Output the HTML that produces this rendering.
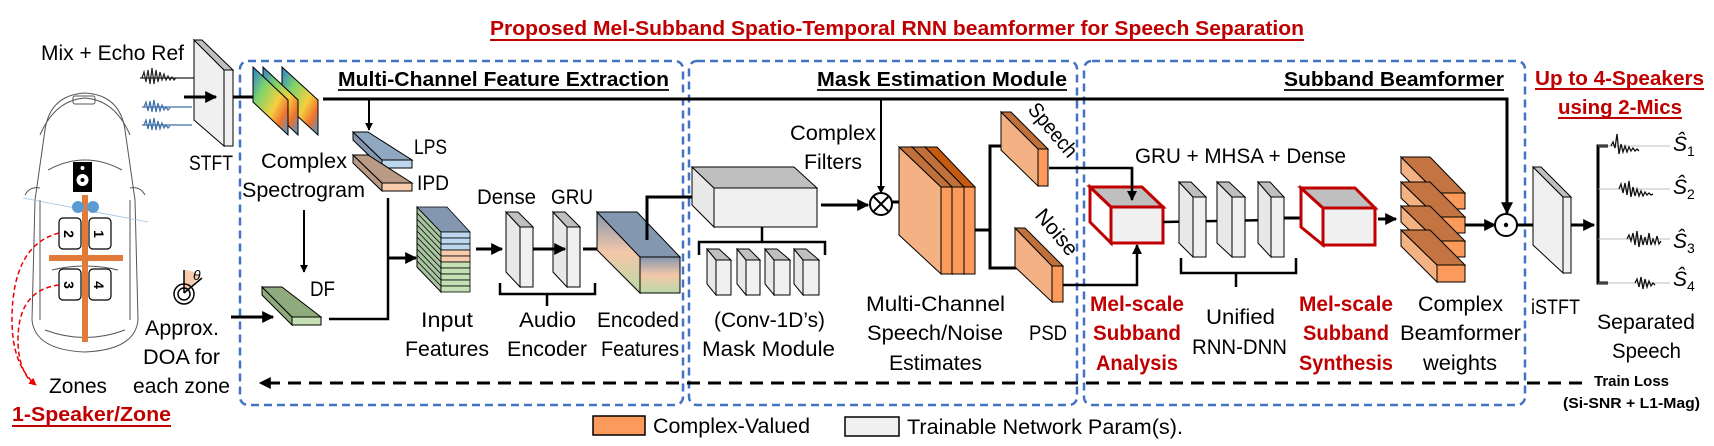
<!DOCTYPE html>
<html><head><meta charset="utf-8"><style>
html,body{margin:0;padding:0;background:#fff}
svg{display:block}
text{font-family:"Liberation Sans",sans-serif;fill:#000}
.l{font-size:21px}
.b{font-weight:bold}
.r{fill:#c00000;font-weight:bold}
</style></head><body>
<svg width="1714" height="446" viewBox="0 0 1714 446" xmlns="http://www.w3.org/2000/svg">
<defs>
<marker id="ah" viewBox="0 0 10 10" refX="9" refY="5" markerWidth="4" markerHeight="4" orient="auto"><path d="M0,0L10,5L0,10z" fill="#000"/></marker>
<marker id="rah" viewBox="0 0 10 10" refX="9" refY="5" markerWidth="5" markerHeight="5" orient="auto"><path d="M0,0L10,5L0,10z" fill="#e00"/></marker>
<linearGradient id="enc" x1="0" y1="0" x2="0" y2="1"><stop offset="0" stop-color="#8497b0"/><stop offset="0.5" stop-color="#f4c7a8"/><stop offset="1" stop-color="#b8d9a8"/></linearGradient>
<linearGradient id="spec" x1="0" y1="0" x2="1" y2="1"><stop offset="0" stop-color="#2a7fd4"/><stop offset="0.3" stop-color="#7fd36b"/><stop offset="0.6" stop-color="#f4d03f"/><stop offset="0.8" stop-color="#f07030"/><stop offset="1" stop-color="#3aa0e0"/></linearGradient>
</defs>

<text x="490" y="35" class="r" font-size="20" textLength="814" lengthAdjust="spacingAndGlyphs">Proposed Mel-Subband Spatio-Temporal RNN beamformer for Speech Separation</text>
<line x1="490" y1="40" x2="1304" y2="40" stroke="#c00000" stroke-width="2"/>

<g fill="none" stroke="#4472c4" stroke-width="2.5" stroke-dasharray="8 5">
<rect x="240" y="61" width="443" height="344" rx="8"/>
<rect x="689" y="61" width="388" height="344" rx="8"/>
<rect x="1084" y="61" width="441" height="344" rx="8"/>
</g>
<text x="338" y="86" class="b" font-size="20" textLength="331" lengthAdjust="spacingAndGlyphs">Multi-Channel Feature Extraction</text>
<line x1="338" y1="90" x2="669" y2="90" stroke="#000" stroke-width="1.8"/>
<text x="817" y="86" class="b" font-size="20" textLength="250" lengthAdjust="spacingAndGlyphs">Mask Estimation Module</text>
<line x1="817" y1="90" x2="1067" y2="90" stroke="#000" stroke-width="1.8"/>
<text x="1284" y="86" class="b" font-size="20" textLength="220" lengthAdjust="spacingAndGlyphs">Subband Beamformer</text>
<line x1="1284" y1="90" x2="1504" y2="90" stroke="#000" stroke-width="1.8"/>

<text x="41" y="60" class="l" textLength="143" lengthAdjust="spacingAndGlyphs">Mix + Echo Ref</text>
<g stroke-width="1.2">
<path d="M140,78 L197,78" stroke="#222"/>
<path d="M142,78 l2,-6 2,10 2,-12 2,14 2,-16 2,16 2,-14 2,12 2,-10 2,8 2,-6 2,6 2,-4 2,4 2,-3 2,3 2,-2" stroke="#222" fill="none"/>
<path d="M142,107 L192,107 M142,125 L192,125" stroke="#3d6fa8"/>
<path d="M144,107 l2,-5 2,9 2,-10 2,11 2,-12 2,12 2,-9 2,8 2,-6 2,5 2,-3 2,3 2,-2" stroke="#3d6fa8" fill="none"/>
<path d="M144,125 l2,-5 2,9 2,-10 2,11 2,-12 2,12 2,-9 2,8 2,-6 2,5 2,-3 2,3 2,-2" stroke="#3d6fa8" fill="none"/>
</g>

<polygon points="194,40 224,70 224,146 194,120" fill="#f0f0f0" stroke="#000" stroke-width="1"/>
<polygon points="194,40 202,40 233,70 224,70" fill="#bfbfbf" stroke="#000" stroke-width="1"/>
<rect x="224" y="70" width="9" height="76" fill="#f0f0f0" stroke="#000" stroke-width="1"/>
<text x="189" y="170" class="l" textLength="44" lengthAdjust="spacingAndGlyphs">STFT</text>
<line x1="184" y1="97" x2="216" y2="97" stroke="#000" stroke-width="3" marker-end="url(#ah)"/>
<line x1="233" y1="97" x2="271" y2="97" stroke="#000" stroke-width="3" marker-end="url(#ah)"/>

<polygon points="282,67 318,100 318,135 282,102" fill="url(#spec)" stroke="#000"/>
<polygon points="263,67 298,100 298,135 263,102" fill="url(#spec)" stroke="#000"/>
<polygon points="253,67 288,100 288,135 253,102" fill="url(#spec)" stroke="#000"/>

<polyline points="323,99 1507,99 1507,213" fill="none" stroke="#000" stroke-width="3" marker-end="url(#ah)"/>
<line x1="369" y1="99" x2="369" y2="130" stroke="#000" stroke-width="2" marker-end="url(#ah)"/>

<polygon points="353,132 382,160 382,168 353,140" fill="#8497b0" stroke="#000"/>
<polygon points="353,132 368,132 412,160 382,160" fill="#8fa8c0" stroke="#000"/>
<rect x="382" y="160" width="30" height="8" fill="#bdd7ee" stroke="#000"/>
<polygon points="353,155 382,183 382,191 353,163" fill="#b99a85" stroke="#000"/>
<polygon points="353,155 368,155 412,183 382,183" fill="#b99a85" stroke="#000"/>
<rect x="382" y="183" width="30" height="8" fill="#f8cbad" stroke="#000"/>
<text x="414" y="154" class="l" textLength="33" lengthAdjust="spacingAndGlyphs">LPS</text>
<text x="417" y="190" class="l" textLength="32" lengthAdjust="spacingAndGlyphs">IPD</text>
<text x="261" y="168" class="l" textLength="86" lengthAdjust="spacingAndGlyphs">Complex</text>
<text x="242" y="197" class="l" textLength="123" lengthAdjust="spacingAndGlyphs">Spectrogram</text>
<line x1="304" y1="210" x2="304" y2="272" stroke="#000" stroke-width="2" marker-end="url(#ah)"/>

<polygon points="262,287 292,317 292,325 262,295" fill="#8faa7d" stroke="#000"/>
<polygon points="262,287 282,287 321,317 292,317" fill="#8faa7d" stroke="#000"/>
<rect x="292" y="317" width="29" height="8" fill="#c5e0b4" stroke="#000"/>
<text x="310" y="296" class="l" textLength="25" lengthAdjust="spacingAndGlyphs">DF</text>
<polyline points="329,319 388,319 388,198" fill="none" stroke="#000" stroke-width="2.5"/>
<line x1="388" y1="258" x2="416" y2="258" stroke="#000" stroke-width="3" marker-end="url(#ah)"/>
<line x1="231" y1="317" x2="273" y2="317" stroke="#000" stroke-width="3" marker-end="url(#ah)"/>

<path d="M184,293 L184,270 A23,23 0 0 1 200,277 Z" fill="#f8cbad"/>
<line x1="184" y1="270" x2="184" y2="293" stroke="#000" stroke-width="1.5"/>
<line x1="184" y1="293" x2="202" y2="278" stroke="#000" stroke-width="1.5"/>
<circle cx="184" cy="294" r="10" fill="none" stroke="#000" stroke-width="1.5"/>
<circle cx="184" cy="294" r="6" fill="none" stroke="#000" stroke-width="1.5"/>
<text x="193" y="280" font-size="14" font-style="italic" font-family="Liberation Serif,serif">θ</text>
<text x="145" y="335" class="l" textLength="74" lengthAdjust="spacingAndGlyphs">Approx.</text>
<text x="143" y="364" class="l" textLength="77" lengthAdjust="spacingAndGlyphs">DOA for</text>
<text x="133" y="393" class="l" textLength="97" lengthAdjust="spacingAndGlyphs">each zone</text>
<text x="49" y="393" class="l" textLength="58" lengthAdjust="spacingAndGlyphs">Zones</text>
<text x="12" y="421" class="r" font-size="20" textLength="159" lengthAdjust="spacingAndGlyphs">1-Speaker/Zone</text>
<line x1="12" y1="426" x2="171" y2="426" stroke="#c00000" stroke-width="2"/>

<g fill="none" stroke="#555" stroke-width="1">
<path d="M45,130 Q50,95 85,93 Q120,95 125,130 L135,200 L138,320 Q135,350 85,352 Q35,350 32,320 L35,200 Z" fill="#fff"/>
<path d="M40,135 Q55,100 85,98 Q115,100 130,135 M48,170 Q85,150 122,170 M45,330 Q85,345 125,330 M40,200 L40,320 M130,200 L130,320"/>
<path d="M52,270 Q85,262 118,270"/>
<rect x="73" y="96" width="22" height="8" rx="2"/>
<path d="M25,195 Q30,186 40,188 M145,195 Q140,186 130,188"/>
</g>
<line x1="23" y1="198" x2="148" y2="222" stroke="#9dc3e6" stroke-width="0.8"/>
<rect x="73" y="162" width="19" height="30" fill="#000"/>
<circle cx="82.5" cy="180" r="6" fill="#fff"/><circle cx="82.5" cy="180" r="2" fill="#000"/>
<circle cx="82.5" cy="168" r="2" fill="#fff"/>
<rect x="82" y="195" width="6" height="147" fill="#e07b39"/>
<rect x="49" y="255" width="74" height="6" fill="#e07b39"/>
<circle cx="78" cy="207" r="6" fill="#5b9bd5"/><circle cx="93" cy="207" r="6" fill="#5b9bd5"/>
<g fill="#fff" stroke="#000" stroke-width="1.2">
<rect x="59" y="218" width="22" height="31" rx="4"/><rect x="89" y="218" width="22" height="31" rx="4"/>
<rect x="59" y="269" width="22" height="31" rx="4"/><rect x="89" y="269" width="22" height="31" rx="4"/>
</g>
<g font-size="14" font-weight="bold">
<text transform="translate(64,234) rotate(90)" text-anchor="middle">2</text>
<text transform="translate(94,234) rotate(90)" text-anchor="middle">1</text>
<text transform="translate(64,285) rotate(90)" text-anchor="middle">3</text>
<text transform="translate(94,285) rotate(90)" text-anchor="middle">4</text>
</g>
<path d="M59,233 Q12,245 12,320 Q12,365 36,385" fill="none" stroke="#e00" stroke-width="1.5" stroke-dasharray="5 3" marker-end="url(#rah)"/>
<path d="M59,285 Q18,290 18,340 Q18,370 34,385" fill="none" stroke="#e00" stroke-width="1.5" stroke-dasharray="5 3"/>

<polygon points="417,207 441,232 441,292 417,267" fill="#a9c4a0" stroke="#000"/>
<g stroke="#000" stroke-width="0.8">
<polygon points="417,207 447,207 470,232 441,232" fill="#8497b0"/>
<rect x="441" y="232" width="29" height="6" fill="#bdd7ee"/><rect x="441" y="238" width="29" height="6" fill="#bdd7ee"/><rect x="441" y="244" width="29" height="6" fill="#bdd7ee"/>
<rect x="441" y="250" width="29" height="6" fill="#f8cbad"/><rect x="441" y="256" width="29" height="6" fill="#f8cbad"/>
<rect x="441" y="262" width="29" height="6" fill="#c5e0b4"/><rect x="441" y="268" width="29" height="6" fill="#c5e0b4"/><rect x="441" y="274" width="29" height="6" fill="#c5e0b4"/><rect x="441" y="280" width="29" height="6" fill="#c5e0b4"/><rect x="441" y="286" width="29" height="6" fill="#c5e0b4"/>
<path d="M417,213 441,238 M417,219 441,244 M417,225 441,250 M417,231 441,256 M417,237 441,262 M417,243 441,268 M417,249 441,274 M417,255 441,280 M417,261 441,286" fill="none"/>
</g>
<text x="421" y="327" class="l" textLength="52" lengthAdjust="spacingAndGlyphs">Input</text>
<text x="405" y="356" class="l" textLength="84" lengthAdjust="spacingAndGlyphs">Features</text>
<line x1="476" y1="249" x2="502" y2="249" stroke="#000" stroke-width="3" marker-end="url(#ah)"/>

<g stroke="#000" stroke-width="1">
<polygon points="506,212 520,227 520,287 506,272" fill="#e8e8e8"/>
<polygon points="506,212 518,212 533,227 520,227" fill="#bfbfbf"/>
<rect x="520" y="227" width="13" height="60" fill="#f0f0f0"/>
<polygon points="553,212 567,227 567,287 553,272" fill="#e8e8e8"/>
<polygon points="553,212 565,212 580,227 567,227" fill="#bfbfbf"/>
<rect x="567" y="227" width="13" height="60" fill="#f0f0f0"/>
</g>
<line x1="533" y1="249" x2="565" y2="249" stroke="#000" stroke-width="3" marker-end="url(#ah)"/>
<text x="477" y="204" class="l" textLength="59" lengthAdjust="spacingAndGlyphs">Dense</text>
<text x="551" y="204" class="l" textLength="42" lengthAdjust="spacingAndGlyphs">GRU</text>
<path d="M500,283 L500,294 L595,294 L595,283 M547,294 L547,306" fill="none" stroke="#000" stroke-width="2.5"/>
<text x="519" y="327" class="l" textLength="57" lengthAdjust="spacingAndGlyphs">Audio</text>
<text x="507" y="356" class="l" textLength="80" lengthAdjust="spacingAndGlyphs">Encoder</text>
<line x1="583" y1="249" x2="618" y2="249" stroke="#000" stroke-width="3" marker-end="url(#ah)"/>

<polygon points="597,212 640,257 640,293 597,250" fill="url(#enc)" stroke="#000"/>
<polygon points="597,212 637,212 680,257 640,257" fill="#8497b0" stroke="#000"/>
<rect x="640" y="257" width="40" height="36" fill="url(#enc)" stroke="#000"/>
<polyline points="647,240 647,197 705,197" fill="none" stroke="#000" stroke-width="3" marker-end="url(#ah)"/>
<text x="597" y="327" class="l" textLength="82" lengthAdjust="spacingAndGlyphs">Encoded</text>
<text x="601" y="356" class="l" textLength="78" lengthAdjust="spacingAndGlyphs">Features</text>

<g stroke="#000" stroke-width="1">
<polygon points="692,167 714,188 714,227 692,205" fill="#e8e8e8"/>
<polygon points="692,167 794,167 817,188 714,188" fill="#bfbfbf"/>
<rect x="714" y="188" width="103" height="39" fill="#f0f0f0"/>
</g>
<line x1="821" y1="205" x2="868" y2="205" stroke="#000" stroke-width="3" marker-end="url(#ah)"/>
<path d="M699,255 L699,242 L825,242 L825,255 M762,242 L762,227" fill="none" stroke="#000" stroke-width="2.5"/>
<g stroke="#000" stroke-width="1">
<polygon points="707,249 716,260 716,295 707,284" fill="#e8e8e8"/><polygon points="707,249 719,249 731,260 716,260" fill="#bfbfbf"/><rect x="716" y="260" width="15" height="35" fill="#f0f0f0"/>
<polygon points="737,249 746,260 746,295 737,284" fill="#e8e8e8"/><polygon points="737,249 749,249 760,260 746,260" fill="#bfbfbf"/><rect x="746" y="260" width="14" height="35" fill="#f0f0f0"/>
<polygon points="765,249 774,260 774,295 765,284" fill="#e8e8e8"/><polygon points="765,249 777,249 790,260 774,260" fill="#bfbfbf"/><rect x="774" y="260" width="16" height="35" fill="#f0f0f0"/>
<polygon points="794,249 803,260 803,295 794,284" fill="#e8e8e8"/><polygon points="794,249 806,249 819,260 803,260" fill="#bfbfbf"/><rect x="803" y="260" width="16" height="35" fill="#f0f0f0"/>
</g>
<text x="714" y="327" class="l" textLength="111" lengthAdjust="spacingAndGlyphs">(Conv-1D’s)</text>
<text x="702" y="356" class="l" textLength="133" lengthAdjust="spacingAndGlyphs">Mask Module</text>
<text x="790" y="140" class="l" textLength="86" lengthAdjust="spacingAndGlyphs">Complex</text>
<text x="804" y="169" class="l" textLength="58" lengthAdjust="spacingAndGlyphs">Filters</text>
<line x1="881" y1="99" x2="881" y2="193" stroke="#000" stroke-width="2" marker-end="url(#ah)"/>
<circle cx="881" cy="204" r="11" fill="#fff" stroke="#000" stroke-width="2"/>
<path d="M873,196 L889,212 M889,196 L873,212" stroke="#000" stroke-width="2"/>
<line x1="892" y1="202" x2="920" y2="202" stroke="#000" stroke-width="3" marker-end="url(#ah)"/>

<g stroke="#000" stroke-width="1">
<polygon points="925,147 964,187 964,274 925,235" fill="#f4b183"/>
<polygon points="925,147 937,147 975,187 964,187" fill="#c55a11"/>
<rect x="964" y="187" width="11" height="87" fill="#fb9a5a"/>
<polygon points="912,147 952,187 952,274 912,235" fill="#f4b183"/>
<polygon points="912,147 925,147 964,187 952,187" fill="#c0703a"/>
<rect x="952" y="187" width="12" height="87" fill="#fb9a5a"/>
<polygon points="899,147 941,187 941,274 899,235" fill="#f4b183"/>
<polygon points="899,147 912,147 952,187 941,187" fill="#c0703a"/>
<rect x="941" y="187" width="11" height="87" fill="#fb9a5a"/>
</g>
<polyline points="975,230 990,230" fill="none" stroke="#000" stroke-width="3"/>
<polyline points="990,268 990,146 1014,146" fill="none" stroke="#000" stroke-width="3" marker-end="url(#ah)"/>
<polyline points="990,230 990,268 1035,268" fill="none" stroke="#000" stroke-width="3" marker-end="url(#ah)"/>

<g stroke="#000" stroke-width="1">
<polygon points="1001,112 1038,149 1038,186 1001,150" fill="#f4b183"/>
<polygon points="1001,112 1011,112 1048,149 1038,149" fill="#c0703a"/>
<rect x="1038" y="149" width="10" height="37" fill="#fb9a5a"/>
<polygon points="1015,228 1052,266 1052,302 1015,267" fill="#f4b183"/>
<polygon points="1015,228 1025,228 1063,266 1052,266" fill="#c0703a"/>
<rect x="1052" y="266" width="11" height="36" fill="#fb9a5a"/>
</g>
<text transform="translate(1027,110) rotate(50)" class="l" textLength="64" lengthAdjust="spacingAndGlyphs">Speech</text>
<text transform="translate(1034,216) rotate(50)" class="l" textLength="54" lengthAdjust="spacingAndGlyphs">Noise</text>
<text x="1029" y="340" class="l" textLength="38" lengthAdjust="spacingAndGlyphs">PSD</text>
<text x="866" y="311" class="l" textLength="139" lengthAdjust="spacingAndGlyphs">Multi-Channel</text>
<text x="867" y="340" class="l" textLength="136" lengthAdjust="spacingAndGlyphs">Speech/Noise</text>
<text x="889" y="370" class="l" textLength="93" lengthAdjust="spacingAndGlyphs">Estimates</text>
<polyline points="1049,168 1132,168 1132,200" fill="none" stroke="#000" stroke-width="2.5" marker-end="url(#ah)"/>
<polyline points="1063,285 1137,285 1137,245" fill="none" stroke="#000" stroke-width="2.5" marker-end="url(#ah)"/>

<g stroke="#c00000" stroke-width="3" stroke-linejoin="miter">
<polygon points="1090,187 1111,207 1111,243 1090,222" fill="#fff"/>
<polygon points="1090,187 1142,187 1163,207 1111,207" fill="#bfbfbf"/>
<rect x="1111" y="207" width="52" height="36" fill="#f0f0f0"/>
</g>
<line x1="1132" y1="168" x2="1132" y2="200" stroke="#000" stroke-width="2.5" marker-end="url(#ah)"/>
<text x="1090" y="311" class="r" font-size="21" textLength="94" lengthAdjust="spacingAndGlyphs">Mel-scale</text>
<text x="1093" y="340" class="r" font-size="21" textLength="88" lengthAdjust="spacingAndGlyphs">Subband</text>
<text x="1096" y="370" class="r" font-size="21" textLength="82" lengthAdjust="spacingAndGlyphs">Analysis</text>
<text x="1135" y="163" class="l" textLength="211" lengthAdjust="spacingAndGlyphs">GRU + MHSA + Dense</text>

<line x1="1163" y1="222" x2="1271" y2="220" stroke="#000" stroke-width="2.5"/>
<g stroke="#000" stroke-width="1">
<polygon points="1179,182 1193,197 1193,257 1179,243" fill="#e8e8e8"/><polygon points="1179,182 1191,182 1206,197 1193,197" fill="#bfbfbf"/><rect x="1193" y="197" width="13" height="60" fill="#f0f0f0"/>
<polygon points="1217,182 1232,197 1232,257 1217,243" fill="#e8e8e8"/><polygon points="1217,182 1229,182 1245,197 1232,197" fill="#bfbfbf"/><rect x="1232" y="197" width="13" height="60" fill="#f0f0f0"/>
<polygon points="1258,182 1271,197 1271,257 1258,243" fill="#e8e8e8"/><polygon points="1258,182 1270,182 1284,197 1271,197" fill="#bfbfbf"/><rect x="1271" y="197" width="13" height="60" fill="#f0f0f0"/>
</g>
<line x1="1284" y1="218" x2="1314" y2="218" stroke="#000" stroke-width="3" marker-end="url(#ah)"/>
<path d="M1181,258 L1181,273 L1296,273 L1296,258 M1236,273 L1236,287" fill="none" stroke="#000" stroke-width="2.5"/>
<text x="1206" y="324" class="l" textLength="69" lengthAdjust="spacingAndGlyphs">Unified</text>
<text x="1192" y="354" class="l" textLength="95" lengthAdjust="spacingAndGlyphs">RNN-DNN</text>

<g stroke="#c00000" stroke-width="3">
<polygon points="1301,188 1323,208 1323,245 1301,227" fill="#fff"/>
<polygon points="1301,188 1355,188 1375,208 1323,208" fill="#bfbfbf"/>
<rect x="1323" y="208" width="52" height="37" fill="#f0f0f0"/>
</g>
<text x="1299" y="311" class="r" font-size="21" textLength="94" lengthAdjust="spacingAndGlyphs">Mel-scale</text>
<text x="1303" y="340" class="r" font-size="21" textLength="86" lengthAdjust="spacingAndGlyphs">Subband</text>
<text x="1299" y="370" class="r" font-size="21" textLength="94" lengthAdjust="spacingAndGlyphs">Synthesis</text>
<line x1="1378" y1="219" x2="1396" y2="219" stroke="#000" stroke-width="3" marker-end="url(#ah)"/>

<g stroke="#000" stroke-width="1">
<polygon points="1401,157 1437,193 1437,209 1401,173" fill="#f4b183"/><polygon points="1401,157 1430,157 1465,193 1437,193" fill="#c47440"/><rect x="1437" y="193" width="28" height="16" fill="#fb9a5a"/>
<polygon points="1401,182 1437,217 1437,233 1401,198" fill="#f4b183"/><polygon points="1401,182 1430,182 1465,217 1437,217" fill="#c47440"/><rect x="1437" y="217" width="28" height="16" fill="#fb9a5a"/>
<polygon points="1401,206 1437,241 1437,257 1401,222" fill="#f4b183"/><polygon points="1401,206 1430,206 1465,241 1437,241" fill="#c47440"/><rect x="1437" y="241" width="28" height="16" fill="#fb9a5a"/>
<polygon points="1401,230 1437,265 1437,282 1401,246" fill="#f4b183"/><polygon points="1401,230 1430,230 1465,265 1437,265" fill="#c47440"/><rect x="1437" y="265" width="28" height="17" fill="#fb9a5a"/>
</g>
<text x="1418" y="311" class="l" textLength="85" lengthAdjust="spacingAndGlyphs">Complex</text>
<text x="1400" y="340" class="l" textLength="121" lengthAdjust="spacingAndGlyphs">Beamformer</text>
<text x="1423" y="370" class="l" textLength="74" lengthAdjust="spacingAndGlyphs">weights</text>
<line x1="1465" y1="225" x2="1495" y2="225" stroke="#000" stroke-width="3" marker-end="url(#ah)"/>
<circle cx="1506" cy="225" r="11" fill="#fff" stroke="#000" stroke-width="2"/>
<circle cx="1506" cy="225" r="2.2" fill="#000"/>
<line x1="1517" y1="225" x2="1551" y2="225" stroke="#000" stroke-width="3" marker-end="url(#ah)"/>

<polygon points="1533,167 1563,197 1563,273 1533,245" fill="#f0f0f0" stroke="#000"/>
<polygon points="1533,167 1541,167 1571,197 1563,197" fill="#bfbfbf" stroke="#000"/>
<rect x="1563" y="197" width="8" height="76" fill="#f0f0f0" stroke="#000"/>
<text x="1531" y="314" class="l" textLength="49" lengthAdjust="spacingAndGlyphs">iSTFT</text>
<line x1="1571" y1="225" x2="1594" y2="225" stroke="#000" stroke-width="3" marker-end="url(#ah)"/>

<polyline points="1608,146 1598,146 1598,283 1608,283" fill="none" stroke="#000" stroke-width="3"/>
<g stroke="#aaa" stroke-width="0.8">
<line x1="1598" y1="146" x2="1670" y2="146"/><line x1="1598" y1="189" x2="1670" y2="189"/>
<line x1="1598" y1="239" x2="1670" y2="239"/><line x1="1598" y1="283" x2="1670" y2="283"/>
</g>
<g stroke="#111" stroke-width="1.3" fill="none">
<path d="M1611,146 l2,-4 2,6 2,-14 2,20 2,-10 2,8 2,-6 2,6 2,-5 2,4 2,-3 2,3 2,-2 2,2"/>
<path d="M1619,189 l2,-5 2,9 2,-10 2,12 2,-14 2,16 2,-10 2,9 2,-7 2,7 2,-5 2,5 2,-4 2,3 2,-2 2,2 2,-1"/>
<path d="M1627,239 l2,-4 2,6 2,-8 2,12 2,-14 2,16 2,-12 2,10 2,-8 2,8 2,-12 2,12 2,-6 2,5 2,-8 2,8 2,-3"/>
<path d="M1635,283 l2,-4 2,8 2,-10 2,12 2,-10 2,8 2,-6 2,5 2,-3 2,2"/>
</g>
<g font-family="Liberation Serif,serif" font-style="italic" font-size="21">
<text x="1673" y="151">Ŝ<tspan font-size="14" font-style="normal" dy="5">1</tspan></text>
<text x="1673" y="194">Ŝ<tspan font-size="14" font-style="normal" dy="5">2</tspan></text>
<text x="1673" y="248">Ŝ<tspan font-size="14" font-style="normal" dy="5">3</tspan></text>
<text x="1673" y="286">Ŝ<tspan font-size="14" font-style="normal" dy="5">4</tspan></text>
</g>
<text x="1597" y="329" class="l" textLength="98" lengthAdjust="spacingAndGlyphs">Separated</text>
<text x="1612" y="358" class="l" textLength="69" lengthAdjust="spacingAndGlyphs">Speech</text>
<text x="1535" y="85" class="r" font-size="20" textLength="169" lengthAdjust="spacingAndGlyphs">Up to 4-Speakers</text>
<line x1="1535" y1="89" x2="1704" y2="89" stroke="#c00000" stroke-width="2"/>
<text x="1558" y="114" class="r" font-size="20" textLength="124" lengthAdjust="spacingAndGlyphs">using 2-Mics</text>
<line x1="1558" y1="118" x2="1682" y2="118" stroke="#c00000" stroke-width="2"/>

<line x1="1582" y1="383" x2="260" y2="383" stroke="#000" stroke-width="3" stroke-dasharray="13 8" marker-end="url(#ah)"/>
<text x="1594" y="386" class="b" font-size="15" textLength="75" lengthAdjust="spacingAndGlyphs">Train Loss</text>
<text x="1563" y="408" class="b" font-size="15" textLength="137" lengthAdjust="spacingAndGlyphs">(Si-SNR + L1-Mag)</text>

<rect x="593" y="416" width="52" height="19" fill="#fb9a5a" stroke="#000" stroke-width="1.5"/>
<text x="653" y="433" class="l" textLength="157" lengthAdjust="spacingAndGlyphs">Complex-Valued</text>
<rect x="845" y="417" width="54" height="19" fill="#f0f0f0" stroke="#000" stroke-width="1.5"/>
<text x="907" y="434" class="l" textLength="276" lengthAdjust="spacingAndGlyphs">Trainable Network Param(s).</text>
</svg>
</body></html>
